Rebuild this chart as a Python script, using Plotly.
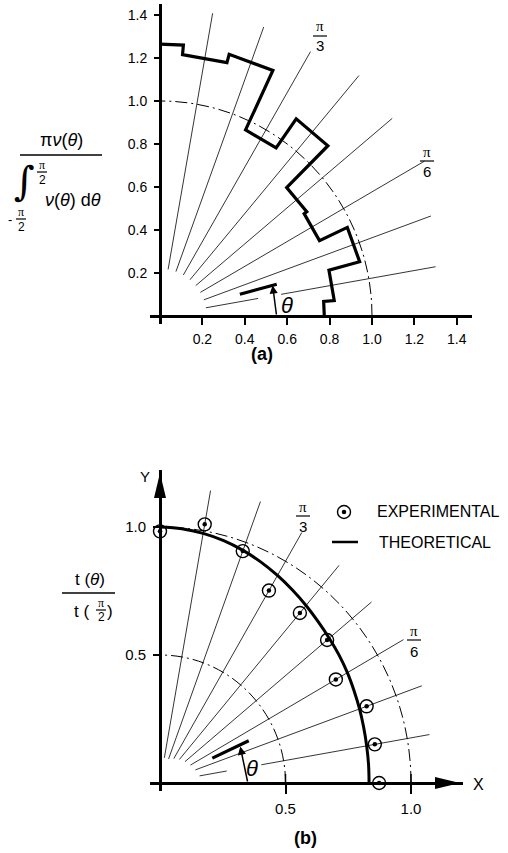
import numpy as np
import plotly.graph_objects as go

W, H = 508, 853

# ---------------- data : panel (a) ----------------
hist_edges_deg = [0, 5, 15, 25, 35, 45, 55, 65, 75, 85, 90]
hist_radius = [0.775, 0.825, 0.975, 0.830, 0.845, 1.120, 0.955, 1.260, 1.220, 1.265]
ray_angles_deg = [10, 20, 30, 40, 50, 60, 70, 80]
ray_a_start = [0.22, 0.22, 0.22, 0.22, 0.22, 0.22, 0.22, 0.22]
ray_a_end = [1.32, 1.36, 1.44, 1.43, 1.46, 1.42, 1.43, 1.43]
ray_a_gap = [0.47, 0.58]
circle_a_radii = [1.0]
ticks_a = [0.2, 0.4, 0.6, 0.8, 1.0, 1.2, 1.4]
ticktext_a = ["0.2", "0.4", "0.6", "0.8", "1.0", "1.2", "1.4"]

# ---------------- data : panel (b) ----------------
exp_angles_deg = [0, 10, 20, 30, 40, 50, 60, 70, 80, 90]
exp_ratio = [0.873, 0.869, 0.876, 0.809, 0.869, 0.867, 0.868, 0.964, 1.026, 0.983]
theory_angles_deg = [0, 5, 10, 15, 20, 25, 30, 35, 40, 45, 50, 55, 60, 65, 70, 75, 80, 85, 90]
theory_ratio = [0.833, 0.834, 0.836, 0.840, 0.846, 0.853, 0.862, 0.871, 0.880, 0.891,
                0.905, 0.920, 0.936, 0.952, 0.967, 0.980, 0.990, 0.997, 1.000]
ray_b_start = [0.16, 0.15, 0.14, 0.13, 0.12, 0.11, 0.10, 0.10]
ray_b_end = [1.09, 1.11, 1.12, 1.10, 1.11, 1.13, 1.17, 1.16]
ray_b_gap = [0.27, 0.41]
circle_b_radii = [0.5, 1.0]
ticks_b = [0.5, 1.0]
ticktext_b = ["0.5", "1.0"]

# theta indicators (angle of bar, bar radii, arc radius, arc end angle)
theta_a = dict(bar_deg=15, r0=0.39, r1=0.57, arc_r=0.55, arc_deg=15)
theta_b = dict(bar_deg=25, r0=0.23, r1=0.39, arc_r=0.35, arc_deg=24)

# ---------------- layout geometry (pixels) ----------------
A = dict(x0=160, sx=212, y0=316, sy=215, dom_x=(150, 472), dom_y=(4, 324))
B = dict(x0=160, sx=251, y0=783, sy=256, dom_x=(150, 463), dom_y=(470, 791))

FONT = "Liberation Sans"
SERIF = "Liberation Serif"


def px(xp):
    return xp / W


def py(yp):
    return 1 - yp / H


def rng_x(g):
    return [(g["dom_x"][0] - g["x0"]) / g["sx"], (g["dom_x"][1] - g["x0"]) / g["sx"]]


def rng_y(g):
    return [(g["y0"] - g["dom_y"][1]) / g["sy"], (g["y0"] - g["dom_y"][0]) / g["sy"]]


def pol(r, deg):
    t = np.deg2rad(deg)
    return r * np.cos(t), r * np.sin(t)


def ray_lines(angles, starts, ends, gap):
    xs, ys = [], []
    for i, (a, r0, r1) in enumerate(zip(angles, starts, ends)):
        segs = [(r0, r1)]
        if i == 0:
            segs = [(r0, gap[0]), (gap[1], r1)]
        for s0, s1 in segs:
            x0, y0 = pol(s0, a)
            x1, y1 = pol(s1, a)
            xs += [x0, x1, None]
            ys += [y0, y1, None]
    return xs, ys


fig = go.Figure()

# ---------- panel (a) ----------
rx, ry = ray_lines(ray_angles_deg, ray_a_start, ray_a_end, ray_a_gap)
fig.add_trace(go.Scatter(x=rx, y=ry, mode="lines", line=dict(color="black", width=0.8),
                         xaxis="x", yaxis="y", hoverinfo="skip"))

hx, hy = [], []
for i, r in enumerate(hist_radius):
    for e in (hist_edges_deg[i], hist_edges_deg[i + 1]):
        x, y = pol(r, e)
        hx.append(x)
        hy.append(y)
fig.add_trace(go.Scatter(x=hx, y=hy, mode="lines",
                         line=dict(color="black", width=3.2), xaxis="x", yaxis="y"))

bx0, by0 = pol(theta_a["r0"], theta_a["bar_deg"])
bx1, by1 = pol(theta_a["r1"], theta_a["bar_deg"])
fig.add_trace(go.Scatter(x=[bx0, bx1], y=[by0, by1], mode="lines",
                         line=dict(color="black", width=3.2), xaxis="x", yaxis="y"))

# ---------- panel (b) ----------
rx, ry = ray_lines(ray_angles_deg, ray_b_start, ray_b_end, ray_b_gap)
fig.add_trace(go.Scatter(x=rx, y=ry, mode="lines", line=dict(color="black", width=0.8),
                         xaxis="x2", yaxis="y2", hoverinfo="skip"))

tx, ty = pol(np.array(theory_ratio), np.array(theory_angles_deg))
fig.add_trace(go.Scatter(x=tx, y=ty, mode="lines", line=dict(color="black", width=3, shape="spline"),
                         xaxis="x2", yaxis="y2", name="THEORETICAL"))

ex, ey = pol(np.array(exp_ratio), np.array(exp_angles_deg))
fig.add_trace(go.Scatter(x=ex, y=ey, mode="markers",
                         marker=dict(symbol="circle-open", size=13, color="black", line=dict(width=1.4)),
                         xaxis="x2", yaxis="y2", name="EXPERIMENTAL"))
fig.add_trace(go.Scatter(x=ex, y=ey, mode="markers",
                         marker=dict(symbol="circle", size=4.5, color="black"),
                         xaxis="x2", yaxis="y2", hoverinfo="skip"))

bx0, by0 = pol(theta_b["r0"], theta_b["bar_deg"])
bx1, by1 = pol(theta_b["r1"], theta_b["bar_deg"])
fig.add_trace(go.Scatter(x=[bx0, bx1], y=[by0, by1], mode="lines",
                         line=dict(color="black", width=3.2), xaxis="x2", yaxis="y2"))

# legend key marker (in panel b data space, converted from its pixel spot)
lgx = (344 - B["x0"]) / B["sx"]
lgy = (B["y0"] - 512) / B["sy"]
fig.add_trace(go.Scatter(x=[lgx], y=[lgy], mode="markers",
                         marker=dict(symbol="circle-open", size=13, color="black", line=dict(width=1.4)),
                         xaxis="x2", yaxis="y2"))
fig.add_trace(go.Scatter(x=[lgx], y=[lgy], mode="markers",
                         marker=dict(symbol="circle", size=4.5, color="black"),
                         xaxis="x2", yaxis="y2"))

shapes = []
annotations = []

K = 0.5523  # cubic bezier quarter-circle constant


def quarter(r, xr, yr, dash):
    return dict(type="path", xref=xr, yref=yr,
                path=f"M {r},0 C {r},{K*r} {K*r},{r} 0,{r}",
                line=dict(color="black", width=1, dash=dash))


for r in circle_a_radii:
    shapes.append(quarter(r, "x", "y", "12px,4px,2px,4px"))
for r in circle_b_radii:
    shapes.append(quarter(r, "x2", "y2", "12px,4px,2px,4px"))

# inside halves of x ticks on panel (b)
for v in ticks_b:
    shapes.append(dict(type="line", xref="x2", yref="y2", ysizemode="pixel", yanchor=0,
                       x0=v, x1=v, y0=0, y1=9, line=dict(color="black", width=1.5)))

# axis arrowheads of panel (b)
shapes.append(dict(type="path", xref="x2", yref="y2", xsizemode="pixel", ysizemode="pixel",
                   xanchor=(460 - B["x0"]) / B["sx"], yanchor=0,
                   path="M 0,0 L -25,6 L -25,-6 Z", fillcolor="black", line=dict(width=0)))
shapes.append(dict(type="path", xref="x2", yref="y2", xsizemode="pixel", ysizemode="pixel",
                   xanchor=0, yanchor=(B["y0"] - 473) / B["sy"],
                   path="M 0,0 L -6,-25 L 6,-25 Z", fillcolor="black", line=dict(width=0)))

# theta arc arrows
for th, xr, yr in ((theta_a, "x", "y"), (theta_b, "x2", "y2")):
    tx_, ty_ = pol(th["arc_r"], th["arc_deg"])
    annotations.append(dict(x=tx_, y=ty_, ax=th["arc_r"], ay=0, xref=xr, yref=yr,
                            axref=xr, ayref=yr, text="", showarrow=True,
                            arrowhead=2, arrowsize=1.1, arrowwidth=1.5, arrowcolor="black"))


def text(xp, yp, s, size, family=FONT, xanchor="center", **kw):
    annotations.append(dict(x=px(xp), y=py(yp), xref="paper", yref="paper", text=s,
                            showarrow=False, xanchor=xanchor, yanchor="middle",
                            font=dict(family=family, size=size, color="black"), **kw))


def hline(x0, x1, yp, w=1.4):
    shapes.append(dict(type="line", xref="paper", yref="paper", x0=px(x0), x1=px(x1),
                       y0=py(yp), y1=py(yp), line=dict(color="black", width=w)))


def frac(xc, ytop, yline, ybot, num, den, half, size, nfam=SERIF, dfam=FONT):
    text(xc, ytop, num, size, family=nfam)
    hline(xc - half, xc + half, yline, 1.2)
    text(xc, ybot, den, size, family=dfam)


# theta labels
text(287, 305, "<i>θ</i>", 22)
text(252, 768, "<i>θ</i>", 22)

# pi labels
frac(320, 26, 36, 45, "π", "3", 7, 15)
frac(427, 152, 161, 171, "π", "6", 7, 15)
frac(303, 507, 516, 526, "π", "3", 7, 15)
frac(414, 631, 640, 651, "π", "6", 7, 15)

# panel captions
text(262, 354, "<b>(a)</b>", 18)
text(305, 838, "<b>(b)</b>", 18)

# axis letters
text(145, 477, "Y", 15)
text(478, 784, "X", 16)

# legend text + line
text(375, 512, "EXPERIMENTAL", 16, xanchor="left")
text(377, 542, "THEORETICAL", 16, xanchor="left")
hline(332, 358, 542, 2.5)

# y-label panel (a)
text(61, 140, "π<i>ν</i>(<i>θ</i>)", 18)
hline(20, 102, 155, 1.4)
text(24, 181, "∫", 40, family="DejaVu Serif")
frac(42, 165, 172, 180, "π", "2", 5, 12)
text(43, 200, "<i>ν</i>(<i>θ</i>) d<i>θ</i>", 18, xanchor="left")
text(10, 219, "-", 13)
frac(21, 212, 219, 227, "π", "2", 5, 12)

# y-label panel (b)
text(90, 579, "t (<i>θ</i>)", 17)
hline(62, 115, 593, 1.4)
text(81, 611, "t (", 17)
frac(101, 603, 610, 617, "π", "2", 5, 12)
text(110, 611, ")", 17)


def axis(g, which, tickvals, ticktext, fs, ticklen, standoff):
    common = dict(showgrid=False, zeroline=False, showline=True, linecolor="black", linewidth=3,
                  ticks="outside", ticklen=ticklen, tickwidth=1.5, tickcolor="black",
                  tickvals=tickvals, ticktext=ticktext, anchor="free",
                  ticklabelstandoff=standoff,
                  tickfont=dict(family=FONT, size=fs, color="black"), fixedrange=True)
    if which == "x":
        return dict(domain=[px(g["dom_x"][0]), px(g["dom_x"][1])], range=rng_x(g),
                    position=py(g["y0"]), **common)
    return dict(domain=[py(g["dom_y"][1]), py(g["dom_y"][0])], range=rng_y(g),
                position=px(g["x0"]), **common)


fig.update_layout(
    width=W, height=H, autosize=False,
    margin=dict(l=0, r=0, t=0, b=0),
    paper_bgcolor="white", plot_bgcolor="rgba(0,0,0,0)",
    showlegend=False,
    font=dict(family=FONT, color="black"),
    xaxis=axis(A, "x", ticks_a, ticktext_a, 14, 7, 2),
    yaxis=axis(A, "y", ticks_a, ticktext_a, 14, 5, 4),
    xaxis2=axis(B, "x", ticks_b, ticktext_b, 15, 9, 2),
    yaxis2=axis(B, "y", ticks_b, ticktext_b, 15, 6, 4),
    shapes=shapes,
    annotations=annotations,
)

fig.write_html("out.html", config={"displayModeBar": False},
               post_script="document.body.style.margin='0';document.body.style.overflow='hidden';")
